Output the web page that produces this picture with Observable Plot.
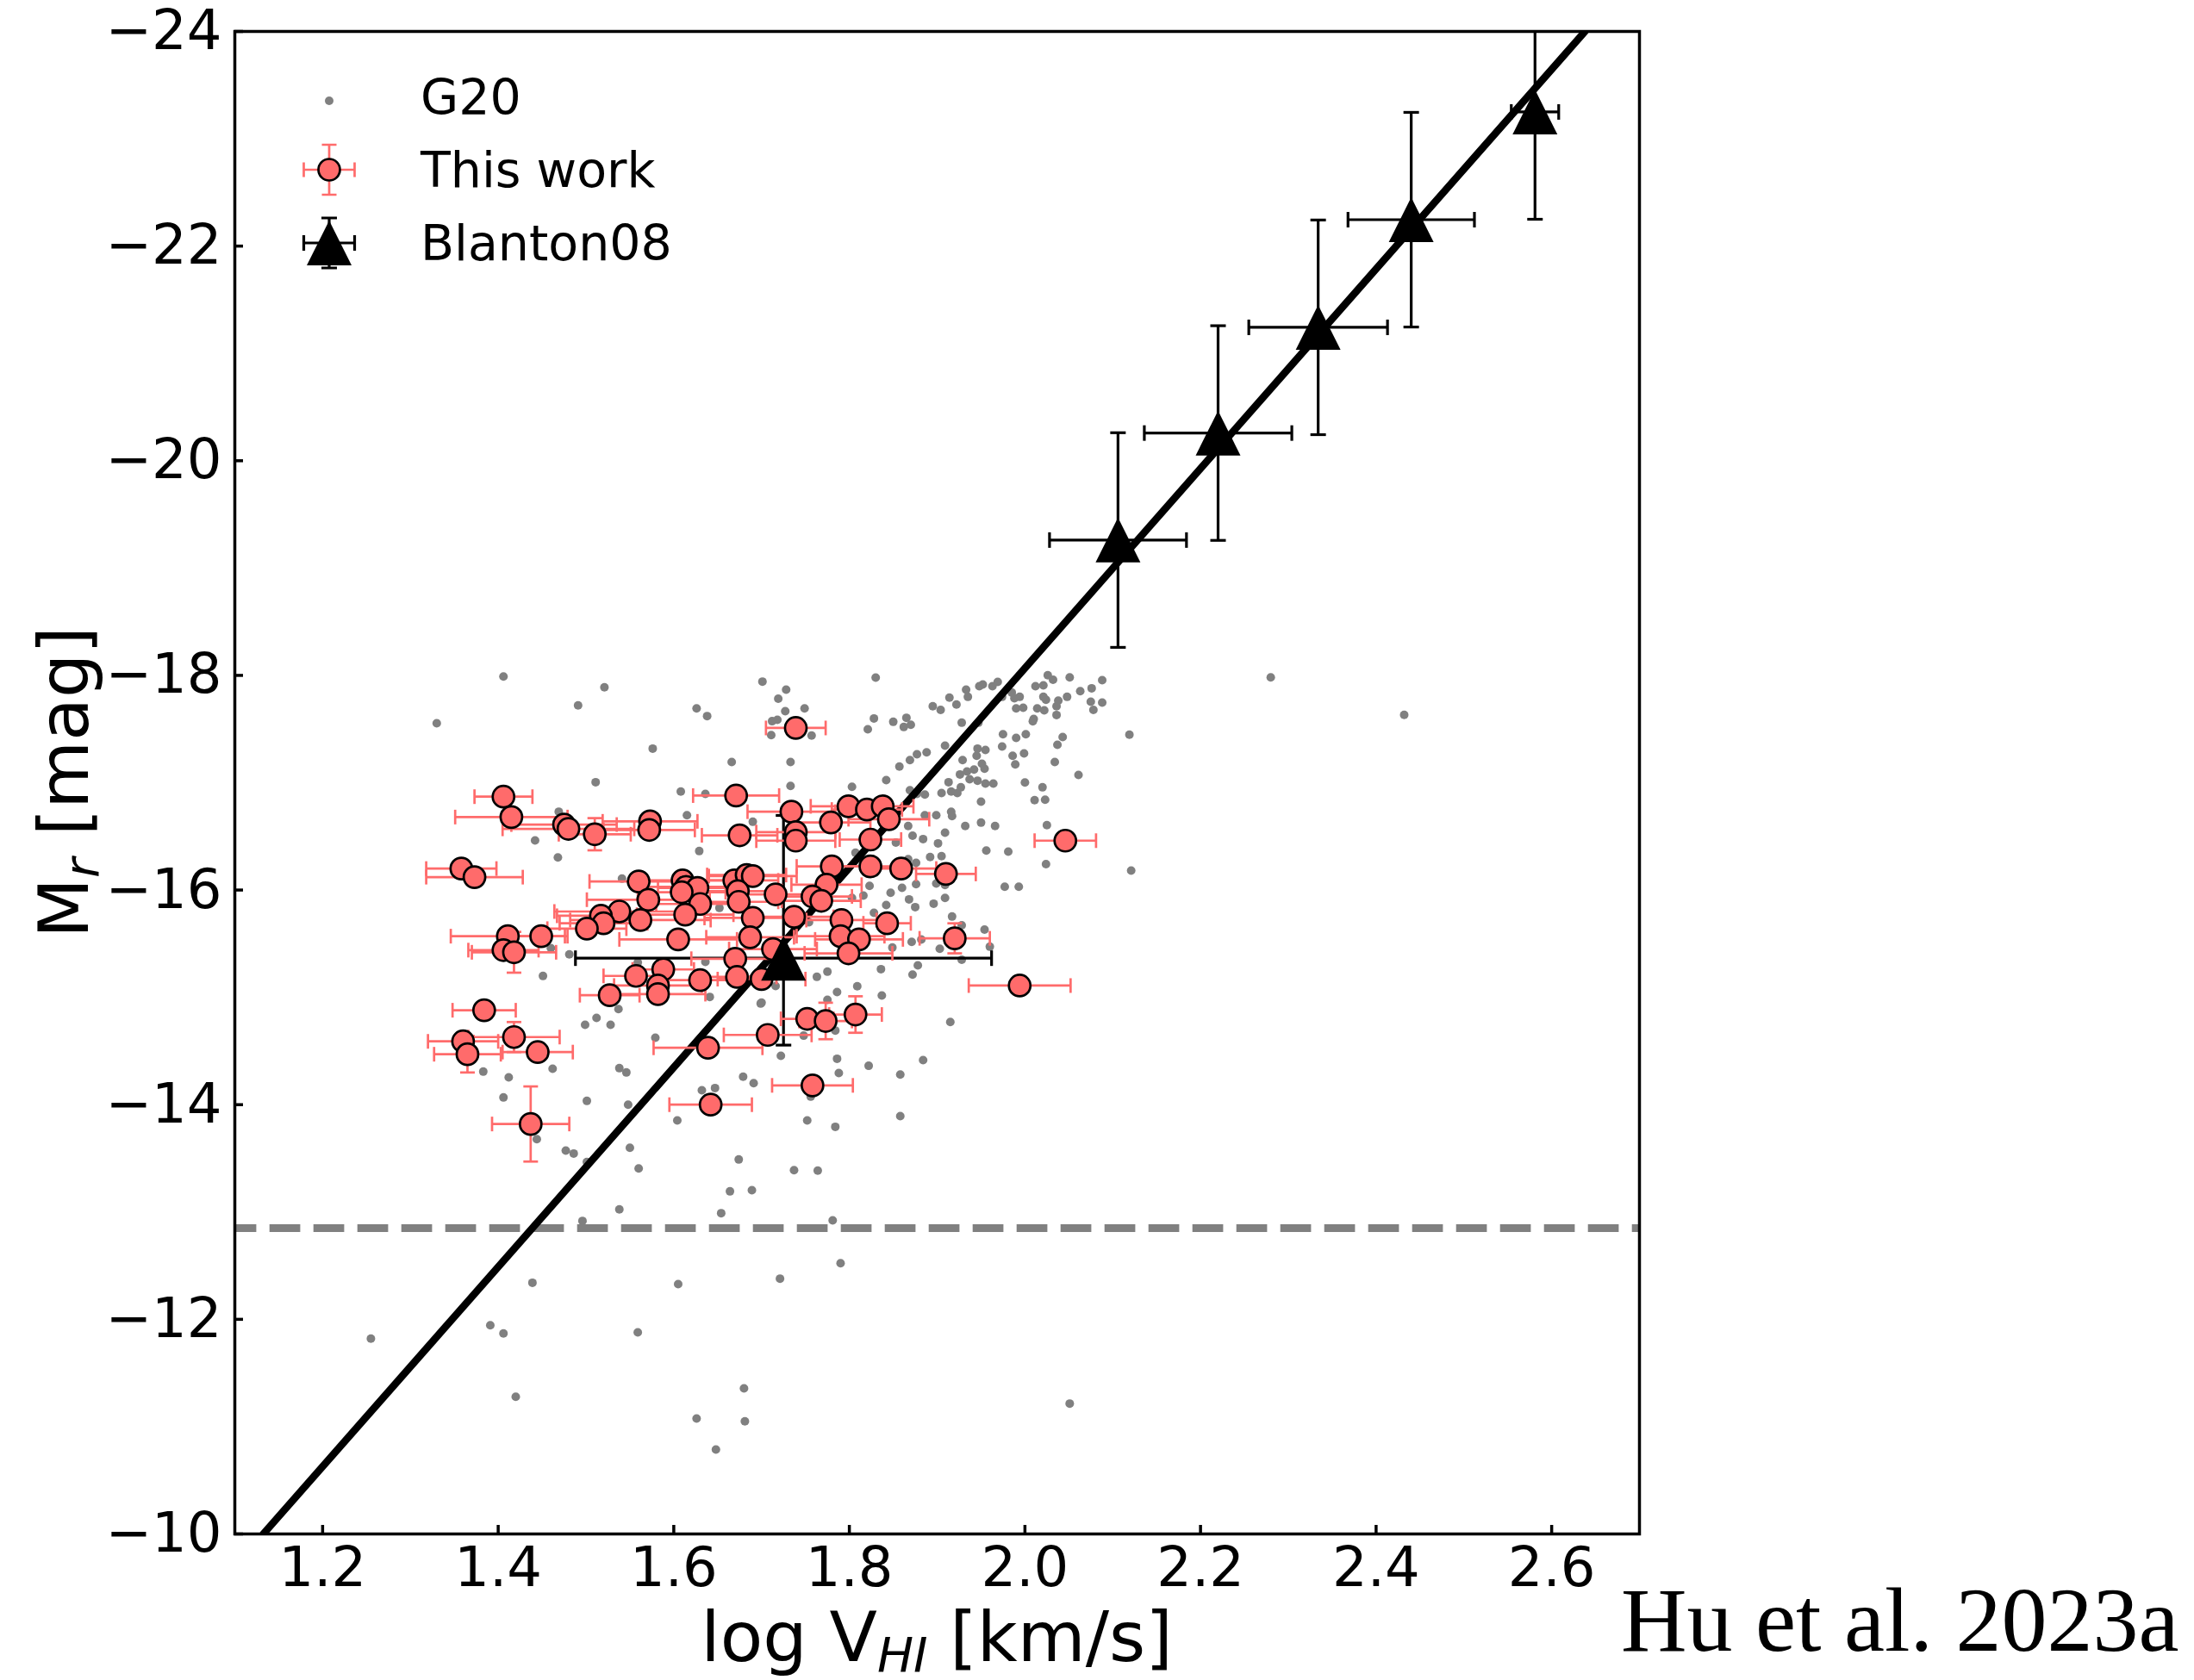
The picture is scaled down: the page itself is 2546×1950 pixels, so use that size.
<!DOCTYPE html>
<html>
<head>
<meta charset="utf-8">
<script src="https://cdn.jsdelivr.net/npm/d3@7"></script>
<script src="https://cdn.jsdelivr.net/npm/@observablehq/plot@0.6"></script>
<style>
html, body { margin: 0; padding: 0; background: #fff; }
#wrap { position: relative; width: 2546px; height: 1950px; overflow: hidden; }
</style>
</head>
<body>
<div id="wrap"></div>
<script>
// ---------------- DATA ----------------
// G20 sample (grey points): log V_HI, M_r
const g20X = [
1.830,1.828,1.821,1.850,1.865,1.862,1.870,1.857,1.869,1.877,1.888,1.842,1.895,1.904,1.914,1.922,1.933,1.935,1.948,1.952,
1.963,1.969,1.974,1.985,1.988,1.994,1.990,1.998,2.012,2.021,2.026,2.032,2.051,2.088,2.076,2.063,2.048,2.021,2.024,2.038,
2.036,2.014,2.022,2.036,2.010,2.009,2.075,2.088,2.078,1.928,1.947,1.975,1.990,2.001,2.043,2.037,1.974,1.946,1.955,1.945,
1.986,1.999,1.989,2.034,2.061,2.119,2.280,1.909,1.929,1.951,1.954,1.942,1.934,1.926,1.913,1.937,1.946,1.955,1.964,1.916,
1.923,1.927,1.905,1.886,1.877,1.869,2.000,2.020,2.011,2.023,1.950,1.916,1.917,1.899,1.886,1.867,1.872,1.884,1.901,1.909,
1.932,1.950,1.966,1.956,1.981,2.025,2.024,2.121,1.892,1.905,1.876,1.867,1.823,1.847,1.860,1.876,1.899,1.909,1.977,1.993,
1.868,1.875,1.896,1.909,1.842,1.828,1.917,1.928,1.954,1.960,1.903,1.871,1.882,1.849,1.836,1.872,1.878,1.928,1.853,1.816,
1.727,1.749,1.712,1.718,1.711,1.757,1.733,1.733,1.803,1.807,1.803,1.754,1.775,1.763,1.716,1.700,1.775,1.786,1.809,1.837,
1.748,1.784,1.722,1.786,1.788,1.822,1.858,1.884,1.915,1.752,1.784,1.756,1.858,
1.330,1.491,1.626,1.638,1.576,1.666,1.511,1.608,1.636,1.615,1.690,1.469,1.442,1.468,1.629,1.541,1.652,1.460,1.481,1.451,
1.636,1.559,1.699,1.537,1.512,1.499,1.528,1.641,1.579,1.383,1.412,1.462,1.538,1.546,1.406,1.501,1.548,1.604,1.632,1.647,
1.679,1.691,
1.406,1.521,1.701,1.728,1.719,
1.444,1.477,1.486,1.550,1.560,1.501,1.538,1.496,1.439,1.605,1.391,1.406,1.559,1.255,1.420,1.626,
1.674,1.737,1.764,1.664,1.689,1.654,1.781,1.790,1.721,1.680,1.681,1.648,2.051,
2.432
];
const g20M = [
-17.979,-17.599,-17.498,-17.567,-17.605,-17.519,-17.540,-17.150,-17.211,-17.265,-17.283,-17.024,-17.712,-17.679,-17.792,-17.728,-17.867,-17.800,-17.899,-17.915,
-17.899,-17.939,-17.800,-17.840,-17.787,-17.800,-17.693,-17.698,-17.899,-17.907,-18.001,-17.960,-17.982,-17.955,-17.880,-17.853,-17.800,-17.800,-17.773,-17.765,
-17.712,-17.693,-17.674,-17.631,-17.594,-17.572,-17.754,-17.746,-17.679,-17.559,-17.559,-17.452,-17.417,-17.452,-17.425,-17.353,-17.337,-17.318,-17.305,-17.251,
-17.251,-17.273,-17.171,-17.193,-17.072,-17.447,-17.982,-17.345,-17.211,-17.176,-17.131,-17.123,-17.104,-17.077,-17.005,-17.032,-17.019,-16.992,-16.992,-16.917,
-16.903,-16.957,-16.903,-16.890,-16.895,-16.930,-17.002,-16.957,-16.837,-16.842,-16.823,-16.729,-16.689,-16.697,-16.697,-16.596,-16.507,-16.475,-16.435,-16.534,
-16.596,-16.628,-16.596,-16.368,-16.358,-16.604,-16.242,-16.181,-16.307,-16.315,-16.253,-16.288,-16.039,-15.975,-16.020,-16.055,-16.061,-16.047,-16.031,-16.031,
-15.913,-15.841,-15.873,-15.927,-15.860,-15.788,-15.753,-15.672,-15.632,-15.472,-15.453,-15.517,-15.539,-15.464,-15.263,-15.212,-15.298,-15.351,-16.443,-15.948,
-17.666,-17.693,-17.573,-17.586,-17.444,-17.439,-17.193,-16.970,-16.962,-16.347,-15.927,-15.699,-15.239,-15.191,-15.105,-14.950,-14.977,-15.049,-15.103,-15.017,
-14.643,-14.691,-14.455,-14.428,-14.295,-14.362,-14.281,-14.415,-14.771,-13.853,-13.794,-14.075,-13.893,
-17.554,-17.720,-17.693,-17.621,-17.318,-17.193,-17.005,-16.917,-16.896,-16.697,-16.636,-16.730,-16.462,-16.304,-16.363,-16.106,-15.833,-15.459,-15.400,-15.199,
-15.330,-15.325,-14.942,-14.891,-14.808,-14.744,-14.744,-15.004,-14.624,-14.308,-14.255,-14.335,-14.340,-14.300,-14.067,-14.035,-14.000,-13.853,-14.134,-14.155,
-14.260,-14.201,
-17.990,-17.889,-17.942,-17.867,-17.782,
-13.679,-13.572,-13.545,-13.599,-13.406,-13.465,-13.024,-12.917,-12.341,-12.328,-11.945,-11.868,-11.878,-11.820,-11.279,-11.076,
-13.489,-13.390,-13.385,-13.192,-13.203,-12.989,-12.922,-12.523,-12.379,-11.357,-11.049,-10.787,-11.215,
-17.632
];

// This work (salmon points with error bars)
const thisX = [
1.406,1.415,1.475,1.480,1.510,1.573,1.572,1.671,1.675,1.358,1.373,1.560,1.571,1.562,1.538,1.517,1.520,1.501,1.610,1.614,
1.627,1.609,1.630,1.613,1.605,1.669,1.683,1.690,1.673,1.674,1.690,1.687,1.716,1.713,1.670,1.672,1.700,1.411,1.449,1.406,
1.418,1.557,1.588,1.582,1.582,1.527,1.630,1.384,1.360,1.365,1.418,1.445,1.437,1.639,1.642,1.707,
1.739,1.734,1.739,1.739,1.779,1.799,1.820,1.838,1.845,1.824,1.780,1.774,1.824,1.859,1.910,2.046,1.758,1.768,1.737,1.791,
1.790,1.811,1.799,1.843,1.920,1.994,1.752,1.773,1.807,1.758
];
const thisM = [
-16.87,-16.68,-16.61,-16.57,-16.52,-16.64,-16.56,-16.88,-16.51,-16.20,-16.12,-16.08,-15.91,-15.72,-15.80,-15.76,-15.69,-15.64,-16.09,-16.03,
-16.02,-15.98,-15.87,-15.77,-15.54,-16.09,-16.14,-16.13,-15.99,-15.89,-15.74,-15.56,-15.96,-15.45,-15.36,-15.19,-15.17,-15.57,-15.57,-15.44,
-15.42,-15.20,-15.26,-15.11,-15.03,-15.02,-15.16,-14.88,-14.59,-14.47,-14.63,-14.49,-13.82,-14.53,-14.00,-14.65,
-17.51,-16.73,-16.54,-16.46,-16.63,-16.78,-16.75,-16.78,-16.66,-16.47,-16.22,-16.05,-16.22,-16.20,-16.15,-16.46,-15.94,-15.90,-15.75,-15.72,
-15.57,-15.54,-15.41,-15.69,-15.55,-15.11,-14.80,-14.78,-14.84,-14.18
];
const thisXerr = [
0.033,0.064,0.060,0.075,0.041,0.054,0.052,0.049,0.043,0.040,0.055,0.056,0.070,0.080,0.074,0.050,0.050,0.045,0.050,0.050,
0.045,0.050,0.050,0.055,0.067,0.050,0.045,0.050,0.050,0.045,0.055,0.050,0.050,0.050,0.050,0.045,0.050,0.065,0.030,0.040,
0.048,0.037,0.035,0.050,0.054,0.034,0.040,0.036,0.040,0.038,0.052,0.040,0.044,0.062,0.047,0.050,
0.034,0.050,0.045,0.045,0.045,0.043,0.040,0.035,0.046,0.035,0.040,0.040,0.040,0.040,0.034,0.035,0.045,0.045,0.045,0.040,
0.050,0.050,0.050,0.027,0.040,0.058,0.030,0.030,0.030,0.046
];
const thisMerr = [
0.07,0.07,0.07,0.07,0.15,0.07,0.07,0.07,0.07,0.07,0.07,0.07,0.07,0.07,0.07,0.07,0.07,0.07,0.07,0.07,
0.07,0.07,0.07,0.07,0.07,0.07,0.07,0.07,0.07,0.07,0.07,0.07,0.07,0.07,0.07,0.07,0.07,0.07,0.07,0.07,
0.19,0.07,0.07,0.07,0.07,0.07,0.07,0.07,0.07,0.17,0.14,0.07,0.35,0.07,0.07,0.07,
0.07,0.07,0.07,0.07,0.07,0.07,0.07,0.07,0.07,0.07,0.07,0.07,0.07,0.07,0.07,0.07,0.07,0.07,0.07,0.07,
0.07,0.07,0.07,0.07,0.14,0.07,0.07,0.17,0.17,0.07
];

// Blanton08 (black triangles)
const blantonX = [1.725, 2.106, 2.220, 2.334, 2.440, 2.581];
const blantonM = [-15.365, -19.261, -20.258, -21.243, -22.246, -23.250];
const blantonXerr = [0.237, 0.078, 0.084, 0.079, 0.072, 0.027];
const blantonMerrBright = [1.33, 1.0, 1.0, 1.0, 1.0, 1.0];
const blantonMerrFaint = [0.81, 1.0, 1.0, 1.0, 1.0, 1.0];

// Fit line end points and magnitude limit
const fitX = [1.1324, 2.638];
const fitM = [-10, -24];
const limitM = -12.85;

const xTicks = [1.2, 1.4, 1.6, 1.8, 2.0, 2.2, 2.4, 2.6];
const yTicks = [-24, -22, -20, -18, -16, -14, -12, -10];

const legendLabels = ["G20", "This work", "Blanton08"];
const caption = "Hu et al. 2023a";

// ---------------- BUILD ----------------
const W = 2546, H = 1950;
const mL = 272, mR = 644, mT = 36, mB = 170;
const innerW = W - mL - mR, innerH = H - mT - mB;
const salmon = "#ff6b6b";
const FONT = "DejaVu Sans";

const g20 = g20X.map((x, i) => ({x, m: g20M[i]}));
const ours = thisX.map((x, i) => ({x, m: thisM[i], xe: thisXerr[i], me: thisMerr[i]}));
const blan = blantonX.map((x, i) => ({x, m: blantonM[i], xe: blantonXerr[i], mb: blantonMerrBright[i], mf: blantonMerrFaint[i]}));
const fit = fitX.map((x, i) => ({x, m: fitM[i]}));

const capV = {draw(ctx, size) { const r = Math.sqrt(size / Math.PI); ctx.moveTo(0, -r); ctx.lineTo(0, r); }};
const capH = {draw(ctx, size) { const r = Math.sqrt(size / Math.PI); ctx.moveTo(-r, 0); ctx.lineTo(r, 0); }};
const tri = {draw(ctx, size) { const r = Math.sqrt(size / Math.PI); ctx.moveTo(0, -r); ctx.lineTo(r, r); ctx.lineTo(-r, r); ctx.closePath(); }};

const minus = d => (d < 0 ? "\u2212" + Math.abs(d) : String(d));

const plot = Plot.plot({
  width: W, height: H,
  marginLeft: mL, marginRight: mR, marginTop: mT, marginBottom: mB,
  x: {domain: [1.1, 2.7]},
  y: {domain: [-10, -24]},
  style: {fontFamily: FONT, background: "white", color: "black"},
  marks: [
    Plot.dot(g20, {x: "x", y: "m", r: 5, fill: "#808080", stroke: "none"}),
    Plot.ruleY([limitM], {stroke: "#808080", strokeWidth: 9, strokeDasharray: "35.7 15.3", strokeDashoffset: 10.3}),
    Plot.line(fit, {x: "x", y: "m", stroke: "black", strokeWidth: 8.5, clip: true}),
    // Blanton error bars
    Plot.link(blan, {x1: d => d.x - d.xe, x2: d => d.x + d.xe, y1: "m", y2: "m", stroke: "black", strokeWidth: 3.2, clip: true}),
    Plot.link(blan, {x1: "x", x2: "x", y1: d => d.m - d.mb, y2: d => d.m + d.mf, stroke: "black", strokeWidth: 3.2, clip: true}),
    Plot.dot(blan, {x: d => d.x - d.xe, y: "m", symbol: capV, r: 9, fill: "none", stroke: "black", strokeWidth: 3.2, clip: true}),
    Plot.dot(blan, {x: d => d.x + d.xe, y: "m", symbol: capV, r: 9, fill: "none", stroke: "black", strokeWidth: 3.2, clip: true}),
    Plot.dot(blan, {x: "x", y: d => d.m - d.mb, symbol: capH, r: 9, fill: "none", stroke: "black", strokeWidth: 3.2, clip: true}),
    Plot.dot(blan, {x: "x", y: d => d.m + d.mf, symbol: capH, r: 9, fill: "none", stroke: "black", strokeWidth: 3.2, clip: true}),
    // This work error bars
    Plot.link(ours, {x1: d => d.x - d.xe, x2: d => d.x + d.xe, y1: "m", y2: "m", stroke: salmon, strokeWidth: 2.7}),
    Plot.link(ours, {x1: "x", x2: "x", y1: d => d.m - d.me, y2: d => d.m + d.me, stroke: salmon, strokeWidth: 2.7}),
    Plot.dot(ours, {x: d => d.x - d.xe, y: "m", symbol: capV, r: 8.5, fill: "none", stroke: salmon, strokeWidth: 2.7}),
    Plot.dot(ours, {x: d => d.x + d.xe, y: "m", symbol: capV, r: 8.5, fill: "none", stroke: salmon, strokeWidth: 2.7}),
    Plot.dot(ours, {x: "x", y: d => d.m - d.me, symbol: capH, r: 8.5, fill: "none", stroke: salmon, strokeWidth: 2.7}),
    Plot.dot(ours, {x: "x", y: d => d.m + d.me, symbol: capH, r: 8.5, fill: "none", stroke: salmon, strokeWidth: 2.7}),
    Plot.dot(ours, {x: "x", y: "m", r: 12.5, fill: salmon, stroke: "black", strokeWidth: 2.7}),
    // Blanton triangles
    Plot.dot(blan, {x: "x", y: "m", symbol: tri, r: 26, fill: "black", stroke: "none"}),
    // ticks (inward)
    Plot.tickX(xTicks, {x: d => d, stroke: "black", strokeWidth: 3.5, insetTop: innerH - 10}),
    Plot.tickY(yTicks, {y: d => d, stroke: "black", strokeWidth: 3.5, insetRight: innerW - 10}),
    Plot.axisX(xTicks, {tickSize: 0, tickPadding: 15, tickFormat: d => d.toFixed(1), fontSize: 64, label: null}),
    Plot.axisY(yTicks, {tickSize: 0, tickPadding: 15, tickFormat: minus, fontSize: 64, label: null}),
    Plot.frame({stroke: "black", strokeWidth: 3.5})
  ]
});

const svg = d3.select(plot);

// Axis labels
const xl = svg.append("text")
  .attr("x", mL + innerW / 2).attr("y", 1928)
  .attr("text-anchor", "middle")
  .attr("font-family", FONT).attr("font-size", 81).attr("fill", "black");
xl.append("tspan").text("log V");
xl.append("tspan").attr("font-size", 56).attr("font-style", "italic").attr("dy", 12).text("HI");
xl.append("tspan").attr("dy", -12).text(" [km/s]");

const yl = svg.append("text")
  .attr("transform", `translate(102,${mT + innerH / 2}) rotate(-90)`)
  .attr("text-anchor", "middle")
  .attr("font-family", FONT).attr("font-size", 81).attr("fill", "black");
yl.append("tspan").text("M");
yl.append("tspan").attr("font-size", 56).attr("font-style", "italic").attr("dy", 12).text("r");
yl.append("tspan").attr("dy", -12).text(" [mag]");

// Legend
const lg = svg.append("g").attr("font-family", FONT).attr("font-size", 57).attr("fill", "black").attr("text-anchor", "start");
const lx = 382;
lg.append("circle").attr("cx", lx).attr("cy", 117).attr("r", 5).attr("fill", "#808080");
// This work
const ly2 = 197;
lg.append("path").attr("d", `M${lx - 29.5},${ly2}H${lx + 29.5}M${lx},${ly2 - 29}V${ly2 + 29}M${lx - 29.5},${ly2 - 8.5}V${ly2 + 8.5}M${lx + 29.5},${ly2 - 8.5}V${ly2 + 8.5}M${lx - 8.5},${ly2 - 29}H${lx + 8.5}M${lx - 8.5},${ly2 + 29}H${lx + 8.5}`)
  .attr("stroke", salmon).attr("stroke-width", 2.7).attr("fill", "none");
lg.append("circle").attr("cx", lx).attr("cy", ly2).attr("r", 12.5).attr("fill", salmon).attr("stroke", "black").attr("stroke-width", 2.7);
// Blanton
const ly3 = 282;
lg.append("path").attr("d", `M${lx - 29.5},${ly3}H${lx + 29.5}M${lx},${ly3 - 29}V${ly3 + 29}M${lx - 29.5},${ly3 - 9}V${ly3 + 9}M${lx + 29.5},${ly3 - 9}V${ly3 + 9}M${lx - 9},${ly3 - 29}H${lx + 9}M${lx - 9},${ly3 + 29}H${lx + 9}`)
  .attr("stroke", "black").attr("stroke-width", 3.2).attr("fill", "none");
lg.append("path").attr("d", `M${lx},${ly3 - 26}L${lx + 26},${ly3 + 26}L${lx - 26},${ly3 + 26}Z`).attr("fill", "black");
lg.append("text").attr("x", 488).attr("y", 133).attr("text-anchor", "start").text(legendLabels[0]);
lg.append("text").attr("x", 488).attr("y", 217).attr("text-anchor", "start").text(legendLabels[1]);
lg.append("text").attr("x", 488).attr("y", 302).attr("text-anchor", "start").text(legendLabels[2]);

// Caption
svg.append("text").attr("x", 1881).attr("y", 1916).attr("text-anchor", "start")
  .attr("font-family", "Liberation Serif, Times New Roman, serif").attr("font-size", 106).attr("fill", "black")
  .text(caption);

document.getElementById("wrap").appendChild(plot);
</script>
</body>
</html>
